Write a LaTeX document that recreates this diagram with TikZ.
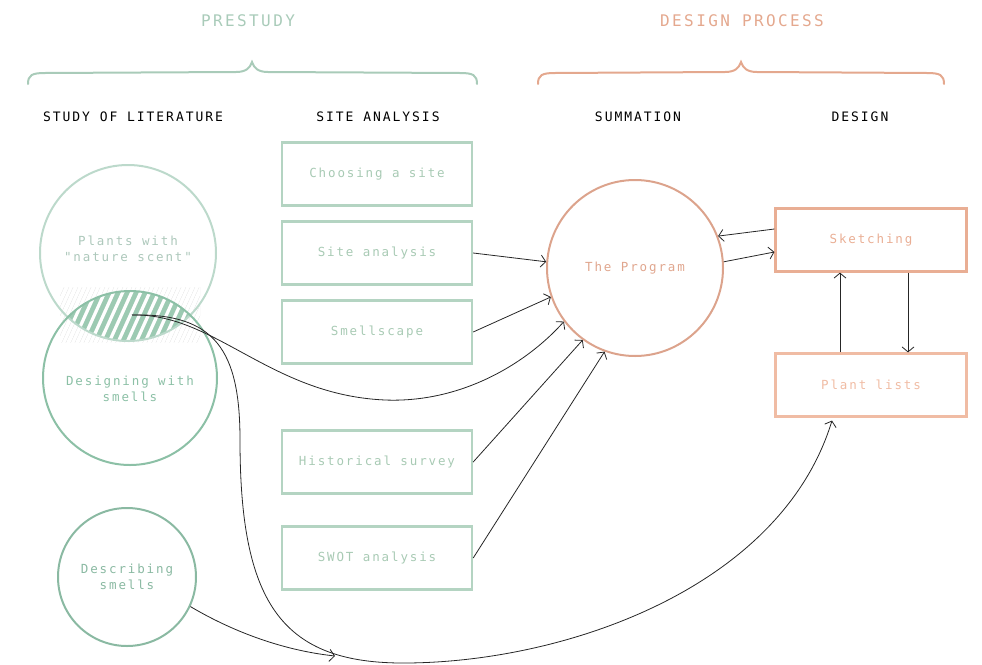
\documentclass[tikz,border=0pt]{standalone}
\usepackage{fontspec}
\newfontfamily\dmono[LetterSpace=15]{DejaVu Sans Mono}
\usetikzlibrary{arrows.meta,calc}
\definecolor{boxg}{HTML}{B4D4C2}
\definecolor{boxgt}{HTML}{A8CAB4}
\definecolor{plantc}{HTML}{BCD9CB}
\definecolor{desc}{HTML}{8CC0A6}
\definecolor{descr}{HTML}{8AB9A2}
\definecolor{hatchc}{HTML}{9CCAB2}
\definecolor{preg}{HTML}{A9CBB9}
\definecolor{deso}{HTML}{E4A88E}
\definecolor{progc}{HTML}{DCA38C}
\definecolor{progt}{HTML}{E0A68E}
\definecolor{sketc}{HTML}{E9AE94}
\definecolor{plistc}{HTML}{F0BCA4}
\begin{document}
\begin{tikzpicture}[x=1pt,y=-1pt,
  txt/.style={font=\dmono\fontsize{12.5}{16}\selectfont, align=center, inner sep=0pt},
  gbox/.style={txt, draw=boxg, line width=2.4pt, minimum width=190pt, minimum height=63pt, text=boxgt},
  obox/.style={txt, line width=2.2pt, minimum width=191pt, minimum height=63pt},
  ring/.style={circle, inner sep=0pt, line width=2pt},
  head/.style={font=\dmono\fontsize{13}{16}\selectfont, text=black, inner sep=0pt},
  ttl/.style={font=\dmono\fontsize{16}{18}\selectfont, inner sep=0pt},
  brace/.style={line width=2pt, line cap=round},
  conn/.style={draw=black!85, line width=0.8pt, -{Straight Barb[length=5pt,width=12pt]}},
  hatch/.style={draw=hatchc, line width=4.6pt},
  faint/.style={draw=black!13, line width=0.3pt, double=white, double distance=4pt}
]
\useasboundingbox (0,0) rectangle (982,664);

% titles and braces
\node[ttl, text=preg] (tpre) at (248,21) {PRESTUDY};
\node[ttl, text=deso] (tdes) at (742,21) {DESIGN PROCESS};
\draw[brace, draw=preg] (28,84) .. controls (28,75) and (32,73) .. (45,73) -- (236,72)
  .. controls (246,72) and (250,68) .. (252,62) .. controls (254,68) and (258,72) .. (268,72)
  -- (460,73) .. controls (473,73) and (477,75) .. (477,84);
\draw[brace, draw=deso] (538,84) .. controls (538,75) and (542,73) .. (555,73) -- (725,72)
  .. controls (735,72) and (739,68) .. (741,62) .. controls (743,68) and (747,72) .. (757,72)
  -- (927,73) .. controls (940,73) and (944,75) .. (944,84);

% column headers
\node[head] (h1) at (133,117) {STUDY OF LITERATURE};
\node[head] (h2) at (378,117) {SITE ANALYSIS};
\node[head] (h3) at (638,117) {SUMMATION};
\node[head] (h4) at (860,117) {DESIGN};

% hatching of the overlap
\begin{scope}
  \clip (60,287) rectangle (200,342);
  \foreach \i in {0,...,22} \draw[faint] (20+\i*9,350) -- ++(30,-66);
\end{scope}
\begin{scope}
  \clip (128,253) circle[radius=88pt];
  \clip (130,378) circle[radius=87pt];
  \foreach \i in {0,...,22} \draw[hatch] (20+\i*9,350) -- ++(30,-66);
\end{scope}

% circles
\node[ring, draw=plantc, minimum size=176pt] (plants) at (128,253) {};
\node[txt, text=plantc!92!black] (plantst) at (128,249) {Plants with\\"nature scent"};
\node[ring, draw=desc, minimum size=174pt] (design) at (130,378) {};
\node[txt, text=desc] (designt) at (130,389) {Designing with\\smells};
\node[ring, draw=descr, minimum size=138pt, txt, text=descr] (descr) at (127,577) {Describing\\smells};
\node[ring, draw=progc, minimum size=176pt, txt, text=progt] (prog) at (635,268) {The Program};

% site analysis boxes
\node[gbox] (choose) at (377,174) {Choosing a site};
\node[gbox] (site) at (377,253) {Site analysis};
\node[gbox] (smell) at (377,332) {Smellscape};
\node[gbox] (hist) at (377,462) {Historical survey};
\node[gbox] (swot) at (377,558) {SWOT analysis};

% design boxes
\node[obox, draw=sketc, text=sketc] (sketch) at (871,240) {Sketching};
\node[obox, draw=plistc, text=plistc] (plist) at (871,385) {Plant lists};

% connectors
\coordinate (lens) at (132,315);
\coordinate (dsend) at (335,656);
\draw[conn] (site.east) -- (prog.176);
\draw[conn] (smell.east) -- (prog.199);
\draw[conn] (hist.east) -- (prog.234);
\draw[conn] (swot.east) -- (prog.250);
\draw[conn] (lens) .. controls (215,313) and (270,395) .. (385,400)
  .. controls (460,403) and (525,365) .. (prog.217);
\draw[conn] (lens) .. controls (215,313) and (240,350) .. (240,440)
  .. controls (240,600) and (280,662) .. (400,663)
  .. controls (560,664) and (780,590) .. ($(plist.south)+(-39,3)$);
\draw[conn] (descr.-25) .. controls (230,630) and (280,650) .. (dsend);
\draw[conn] (prog.4) -- ($(sketch.west)+(0,12)$);
\draw[conn] ($(sketch.west)+(0,-11)$) -- (prog.21);
\draw[conn] ($(plist.north)+(-31,0)$) -- ($(sketch.south)+(-31,0)$);
\draw[conn] ($(sketch.south)+(37,0)$) -- ($(plist.north)+(37,0)$);
\end{tikzpicture}
\end{document}
